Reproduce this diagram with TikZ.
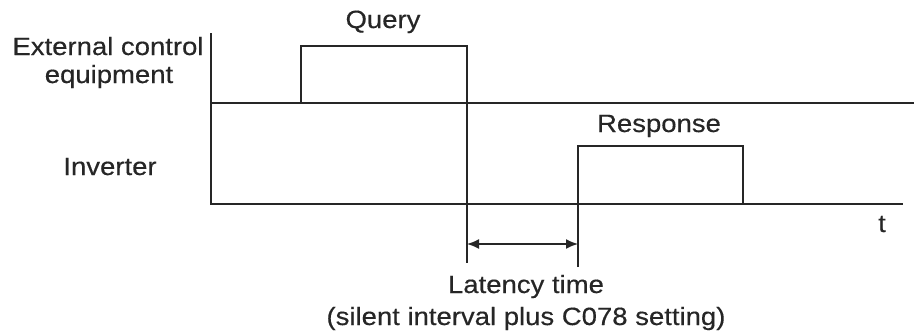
\documentclass[tikz,border=0pt]{standalone}
\usepackage{fontspec}
\setmainfont{Liberation Sans}[FakeStretch=1.1,FakeBold=0.4]
\usetikzlibrary{arrows.meta}
\begin{document}
\begin{tikzpicture}[x=1pt,y=-1pt,
  sig/.style={line width=1.8pt,black!85},
  lbl/.style={inner sep=0pt,anchor=base,font=\fontsize{25}{30}\selectfont,text=black!85},
  dim/.style={line width=1.6pt,black!85,{Latex[length=12pt,width=10pt]}-{Latex[length=12pt,width=10pt]}}]
\useasboundingbox (0,0) rectangle (914,333);
% coordinates
\coordinate (axTop) at (211,33);
\coordinate (axBot) at (211,204);
\coordinate (l1s) at (211,103);
\coordinate (l1e) at (914,103);
\coordinate (l2e) at (903,204);
\coordinate (q0) at (301,103);
\coordinate (q1) at (301,46);
\coordinate (q2) at (467,46);
\coordinate (q3) at (467,263);
\coordinate (r0) at (578,204);
\coordinate (r1) at (578,146);
\coordinate (r2) at (743,146);
\coordinate (r3) at (743,204);
\coordinate (r4) at (578,267);
\coordinate (a1) at (467,244);
\coordinate (a2) at (578,244);
% lines
\draw[sig] (axTop) -- (axBot) -- (l2e);
\draw[sig] (l1s) -- (l1e);
\draw[sig] (q0) -- (q1) -- (q2) -- (q3);
\draw[sig] (r4) -- (r1) -- (r2) -- (r3);
\draw[dim] (a1) -- (a2);
% labels
\node[lbl] (query) at (383,28) {Query};
\node[lbl] (ext) at (108,55) {External control};
\node[lbl] (equip) at (109,83) {equipment};
\node[lbl] (inv) at (110,175) {Inverter};
\node[lbl] (resp) at (659,132) {Response};
\node[lbl] (t) at (882,232) {t};
\node[lbl] (lat) at (526,293) {Latency time};
\node[lbl] (sil) at (526,325) {(silent interval plus C078 setting)};
\end{tikzpicture}
\end{document}
